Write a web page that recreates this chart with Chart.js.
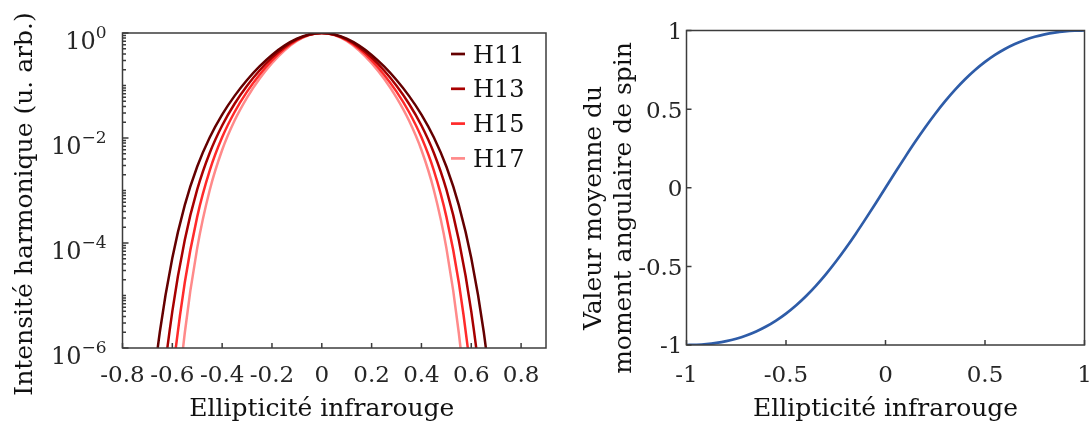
<!DOCTYPE html>
<html><head><meta charset="utf-8">
<script src="https://cdn.jsdelivr.net/npm/chart.js@4/dist/chart.umd.min.js"></script>
<style>
html,body{margin:0;padding:0;background:#fff;width:1092px;height:429px;overflow:hidden}
canvas{position:absolute;left:0;top:0}
</style></head><body>
<canvas id="c1" width="1092" height="429"></canvas>
<canvas id="c2" width="1092" height="429"></canvas>
<script>
// ---------- Left panel data ----------
const ellipL = [-0.7,-0.65,-0.6,-0.55,-0.5,-0.45,-0.4,-0.35,-0.3,-0.25,-0.2,-0.15,-0.1,-0.05,0,
                0.05,0.1,0.15,0.2,0.25,0.3,0.35,0.4,0.45,0.5,0.55,0.6,0.65,0.7];
const seriesNamesL = ['H11','H13','H15','H17'];
const seriesColorsL = ['#640000','#a80000','#ff2a2a','#ff8a8a'];
const h11 = [2.217e-8,2.040e-6,5.167e-5,5.260e-4,2.862e-3,0.010255,0.02792,0.06344,0.1271,0.2307,0.3822,0.5750,0.7785,0.9387,1,
             0.9387,0.7785,0.5750,0.3822,0.2307,0.1271,0.06344,0.02792,0.010255,2.862e-3,5.260e-4,5.167e-5,2.040e-6,2.217e-8];
const h13 = [9.581e-11,5.660e-8,4.984e-6,1.1444e-4,1.0468e-3,5.188e-3,0.01733,0.04499,0.09901,0.1932,0.3395,0.5365,0.7543,0.9311,1,
             0.9311,0.7543,0.5365,0.3395,0.1932,0.09901,0.04499,0.01733,5.188e-3,1.0468e-3,1.1444e-4,4.984e-6,5.660e-8,9.581e-11];
const h15 = [8.145e-14,5.703e-10,2.626e-7,1.766e-5,3.180e-4,2.392e-3,0.010293,0.03128,0.07641,0.1609,0.3006,0.4994,0.7298,0.9232,1,
             0.9232,0.7298,0.4994,0.3006,0.1609,0.07641,0.03128,0.010293,2.392e-3,3.180e-4,1.766e-5,2.626e-7,5.703e-10,8.145e-14];
const h17 = [1.297e-17,2.032e-12,7.472e-9,1.931e-6,8.073e-5,1.0129e-3,5.906e-3,0.02151,0.05887,0.1342,0.2665,0.4652,0.7059,0.9154,1,
             0.9154,0.7059,0.4652,0.2665,0.1342,0.05887,0.02151,5.906e-3,1.0129e-3,8.073e-5,1.931e-6,7.472e-9,2.032e-12,1.297e-17];
const xTicksL = [-0.8,-0.6,-0.4,-0.2,0,0.2,0.4,0.6,0.8];
const xTickLabelsL = ['-0.8','-0.6','-0.4','-0.2','0','0.2','0.4','0.6','0.8'];
const yTickExpL = [0,-2,-4,-6];
const logMinorMult = [1,2,3,4,5,6,7,8,9];

// ---------- Right panel data ----------
const ellipR = [-1,-0.95,-0.9,-0.85,-0.8,-0.75,-0.7,-0.65,-0.6,-0.55,-0.5,-0.45,-0.4,-0.35,-0.3,-0.25,-0.2,-0.15,-0.1,-0.05,0,
                0.05,0.1,0.15,0.2,0.25,0.3,0.35,0.4,0.45,0.5,0.55,0.6,0.65,0.7,0.75,0.8,0.85,0.9,0.95,1];
const spinR = [-1,-0.9987,-0.9945,-0.9869,-0.9756,-0.96,-0.9396,-0.9139,-0.8824,-0.8445,-0.8,-0.7484,-0.6897,-0.6236,-0.5505,-0.4706,-0.3846,-0.2934,-0.198,-0.0998,0,
               0.0998,0.198,0.2934,0.3846,0.4706,0.5505,0.6236,0.6897,0.7484,0.8,0.8445,0.8824,0.9139,0.9396,0.96,0.9756,0.9869,0.9945,0.9987,1];
const xTicksR = [-1,-0.5,0,0.5,1];
const xTickLabelsR = ['-1','-0.5','0','0.5','1'];
const yTicksR = [-1,-0.5,0,0.5,1];
const yTickLabelsR = ['-1','-0.5','0','0.5','1'];

const xTitle = 'Ellipticité infrarouge';
const yTitleL = 'Intensité harmonique (u. arb.)';
const yTitleR = ['Valeur moyenne du','moment angulaire de spin'];

// ---------- Styling ----------
const FONT = '"DejaVu Serif", "Liberation Serif", serif';
const TICK_COL = '#262626';
const TITLE_COL = '#111111';
const AXIS_COL = '#3c3c3c';

function pts(xs, ys){ return xs.map((v,i)=>({x:v, y:ys[i]})); }

function drawBox(ctx, a){
  ctx.strokeStyle = AXIS_COL; ctx.lineWidth = 1.5;
  ctx.strokeRect(a.left, a.top, a.right - a.left, a.bottom - a.top);
}

const leftDecor = {
  id: 'leftDecor',
  afterDatasetsDraw(chart){
    const {ctx, chartArea:a, scales:{x, y}} = chart;
    ctx.save();
    drawBox(ctx, a);
    ctx.beginPath();
    xTicksL.forEach(v => { const px = x.getPixelForValue(v); ctx.moveTo(px, a.bottom); ctx.lineTo(px, a.bottom - 5); });
    for (let n = -6; n < 0; n++) {
      logMinorMult.forEach(m => {
        const py = y.getPixelForValue(m * Math.pow(10, n));
        const len = (m === 1 && n % 2 === 0) ? 6 : 3.5;
        ctx.moveTo(a.left, py); ctx.lineTo(a.left + len, py);
      });
    }
    const p0 = y.getPixelForValue(1); ctx.moveTo(a.left, p0); ctx.lineTo(a.left + 6, p0);
    ctx.stroke();

    // x tick labels
    ctx.fillStyle = TICK_COL;
    ctx.font = '23px ' + FONT; ctx.textAlign = 'center'; ctx.textBaseline = 'alphabetic';
    xTicksL.forEach((v,i) => ctx.fillText(xTickLabelsL[i], x.getPixelForValue(v), 382));
    // y tick labels 10^k
    ctx.textAlign = 'left';
    yTickExpL.forEach(e => {
      const py = y.getPixelForValue(Math.pow(10, e));
      const ex = e === 0 ? '0' : '\u2212' + Math.abs(e);
      ctx.font = '17px ' + FONT; const ew = ctx.measureText(ex).width;
      ctx.font = '24px ' + FONT; const bw = ctx.measureText('10').width;
      const right = a.left - 16;
      ctx.fillText('10', right - ew - bw, py + 15.5);
      ctx.font = '17px ' + FONT; ctx.fillText(ex, right - ew, py + 4.5);
    });
    // titles
    ctx.fillStyle = TITLE_COL;
    ctx.font = '25px ' + FONT; ctx.textAlign = 'center';
    ctx.fillText(xTitle, x.getPixelForValue(0), 416);
    ctx.save(); ctx.translate(32, 204); ctx.rotate(-Math.PI/2);
    ctx.fillText(yTitleL, 0, 0); ctx.restore();
    // legend
    ctx.font = '24px ' + FONT; ctx.textAlign = 'left';
    chart.data.datasets.forEach((ds, i) => {
      const ry = a.top + 21 + i * 34.8;
      ctx.strokeStyle = ds.borderColor; ctx.lineWidth = 2.7;
      ctx.beginPath(); ctx.moveTo(a.right - 95, ry); ctx.lineTo(a.right - 81, ry); ctx.stroke();
      ctx.fillStyle = TITLE_COL; ctx.fillText(ds.label, a.right - 73, ry + 8.5);
    });
    ctx.restore();
  }
};

const rightDecor = {
  id: 'rightDecor',
  afterDatasetsDraw(chart){
    const {ctx, chartArea:a, scales:{x, y}} = chart;
    ctx.save();
    drawBox(ctx, a);
    ctx.beginPath();
    xTicksR.forEach(v => { const px = x.getPixelForValue(v); ctx.moveTo(px, a.bottom); ctx.lineTo(px, a.bottom - 5); });
    yTicksR.forEach(v => { const py = y.getPixelForValue(v); ctx.moveTo(a.left, py); ctx.lineTo(a.left + 5, py); });
    ctx.stroke();
    ctx.fillStyle = TICK_COL;
    ctx.font = '23px ' + FONT; ctx.textAlign = 'center'; ctx.textBaseline = 'alphabetic';
    xTicksR.forEach((v,i) => ctx.fillText(xTickLabelsR[i], x.getPixelForValue(v), 382));
    ctx.textAlign = 'right';
    yTicksR.forEach((v,i) => ctx.fillText(yTickLabelsR[i], a.left - 4, y.getPixelForValue(v) + 8.4));
    ctx.fillStyle = TITLE_COL;
    ctx.font = '25px ' + FONT; ctx.textAlign = 'center';
    ctx.fillText(xTitle, x.getPixelForValue(0), 416);
    ctx.save(); ctx.translate(601, 208); ctx.rotate(-Math.PI/2);
    yTitleR.forEach((t,i) => ctx.fillText(t, 0, i * 30));
    ctx.restore();
    ctx.restore();
  }
};

const common = {
  responsive: false, animation: false, devicePixelRatio: 1,
  plugins: { legend: { display: false }, tooltip: { enabled: false } },
  elements: { point: { radius: 0 } }
};

new Chart(document.getElementById('c1'), {
  type: 'line',
  data: {
    datasets: [h11, h13, h15, h17].map((s, i) => ({
      label: seriesNamesL[i], data: pts(ellipL, s),
      borderColor: seriesColorsL[i], borderWidth: 2.5, fill: false,
      cubicInterpolationMode: 'monotone'
    }))
  },
  options: Object.assign({}, common, {
    layout: { padding: { left: 122.5, right: 546, top: 33, bottom: 81 } },
    scales: {
      x: { type: 'linear', min: -0.8, max: 0.9, display: false },
      y: { type: 'logarithmic', min: 1e-6, max: 1, display: false }
    }
  }),
  plugins: [leftDecor]
});

new Chart(document.getElementById('c2'), {
  type: 'line',
  data: {
    datasets: [{
      label: 'spin', data: pts(ellipR, spinR),
      borderColor: '#2e5ca8', borderWidth: 2.7, fill: false,
      cubicInterpolationMode: 'monotone'
    }]
  },
  options: Object.assign({}, common, {
    layout: { padding: { left: 686.5, right: 7.5, top: 30.5, bottom: 84 } },
    scales: {
      x: { type: 'linear', min: -1, max: 1, display: false },
      y: { type: 'linear', min: -1, max: 1, display: false }
    }
  }),
  plugins: [rightDecor]
});
</script>
</body></html>
